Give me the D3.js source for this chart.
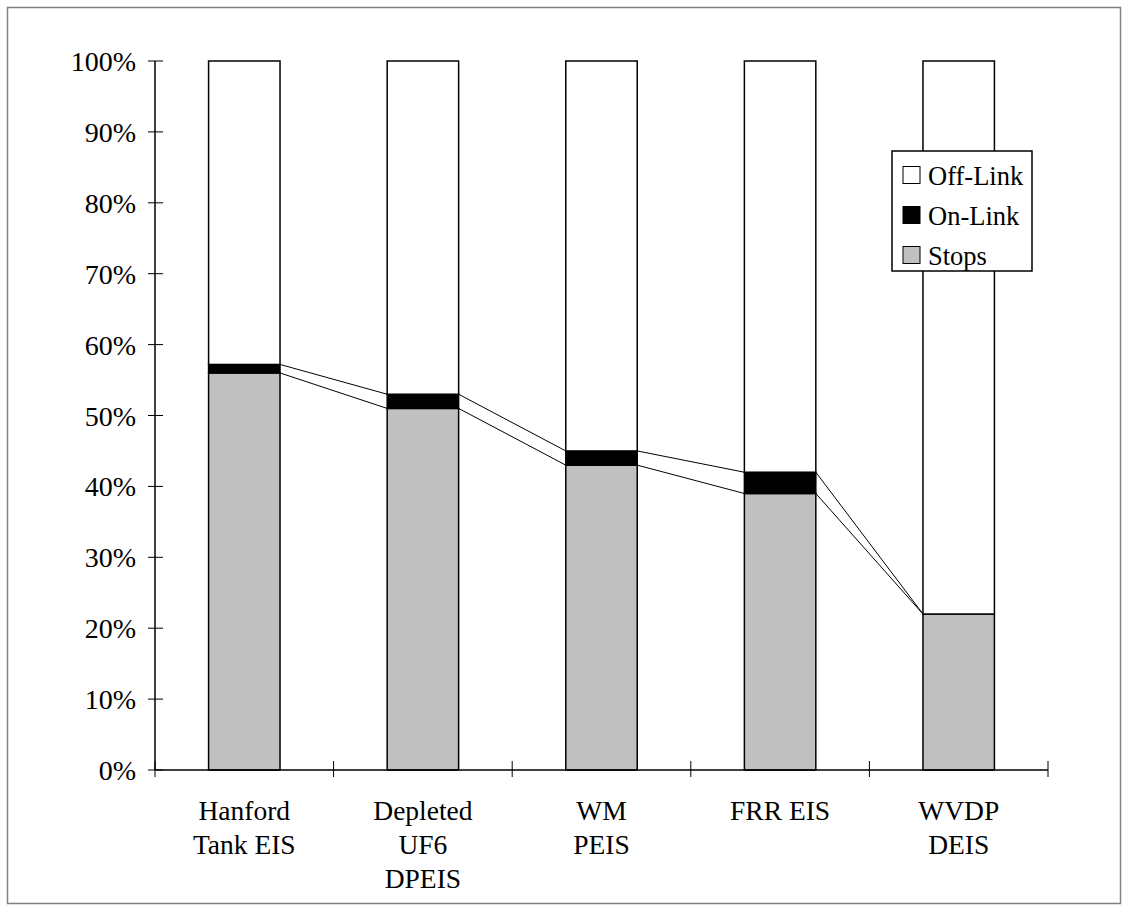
<!DOCTYPE html>
<html>
<head>
<meta charset="utf-8">
<script src="https://cdn.jsdelivr.net/npm/d3@7"></script>
<style>
  html, body { margin: 0; padding: 0; background: #fff; }
  svg { display: block; }
  text { font-family: "Liberation Serif", "Times New Roman", serif; fill: #000; }
</style>
</head>
<body>
<svg id="chart" width="1127" height="911"></svg>
<script>
const categories = [["Hanford", "Tank EIS"], ["Depleted", "UF6", "DPEIS"], ["WM", "PEIS"], ["FRR EIS"], ["WVDP", "DEIS"]];
const seriesNames = ["Stops", "On-Link", "Off-Link"];
const stops   = [56, 51, 43, 39, 22];
const onLink  = [1.2, 2, 2, 3, 0];
const offLink = [42.8, 47, 55, 58, 78];
const yTicks  = [0, 10, 20, 30, 40, 50, 60, 70, 80, 90, 100];
const legendOrder = ["Off-Link", "On-Link", "Stops"];
const colors = { "Stops": "#c0c0c0", "On-Link": "#000000", "Off-Link": "#ffffff" };

const svg = d3.select("#chart");

// outer frame
svg.append("rect").attr("x", 7.5).attr("y", 7.5).attr("width", 1113).attr("height", 896)
  .attr("fill", "#fff").attr("stroke", "#808080").attr("stroke-width", 1.5);

const keys = categories.map((c, i) => i);
const x = d3.scaleBand().domain(keys).range([155, 1048]).padding(0);
const y = d3.scaleLinear().domain([0, 100]).range([770, 61]);
const barW = x.bandwidth() * 0.4;
const bx = i => x(i) + (x.bandwidth() - barW) / 2;

const rows = keys.map(i => ({ i, "Stops": stops[i], "On-Link": onLink[i], "Off-Link": offLink[i] }));
const stacked = d3.stack().keys(seriesNames)(rows);

// connector lines
const tops = [stacked[0], stacked[1]];
tops.forEach(s => {
  for (let k = 0; k < s.length - 1; k++) {
    svg.append("line")
      .attr("x1", bx(k) + barW).attr("y1", y(s[k][1]))
      .attr("x2", bx(k + 1)).attr("y2", y(s[k + 1][1]))
      .attr("stroke", "#000").attr("stroke-width", 1);
  }
});

// bars
stacked.forEach(s => {
  svg.append("g").selectAll("rect").data(s).join("rect")
    .attr("x", (d, k) => bx(k))
    .attr("width", barW)
    .attr("y", d => y(d[1]))
    .attr("height", d => Math.max(0, y(d[0]) - y(d[1])))
    .attr("fill", colors[s.key])
    .attr("stroke", "#000").attr("stroke-width", 1.5);
});

// y axis
svg.append("line").attr("x1", 155).attr("x2", 155).attr("y1", y(0)).attr("y2", y(100))
  .attr("stroke", "#000").attr("stroke-width", 1.5);
const yg = svg.append("g");
yTicks.forEach(t => {
  yg.append("line").attr("x1", 148).attr("x2", 163).attr("y1", y(t)).attr("y2", y(t))
    .attr("stroke", "#000").attr("stroke-width", 1);
  yg.append("text").attr("x", 136).attr("y", y(t)).attr("dy", "0.36em")
    .attr("text-anchor", "end").attr("font-size", 28).text(t + "%");
});

// x axis
svg.append("line").attr("x1", 155).attr("x2", 1048).attr("y1", y(0)).attr("y2", y(0))
  .attr("stroke", "#000").attr("stroke-width", 1.5);
const xEdges = keys.map(i => x(i)).concat([x(keys[keys.length - 1]) + x.bandwidth()]);
xEdges.forEach(e => {
  svg.append("line").attr("x1", e).attr("x2", e).attr("y1", 761).attr("y2", 777)
    .attr("stroke", "#000").attr("stroke-width", 1);
});
keys.forEach(i => {
  const t = svg.append("text").attr("text-anchor", "middle").attr("font-size", 27.5)
    .attr("x", x(i) + x.bandwidth() / 2).attr("y", 820);
  categories[i].forEach((line, j) => {
    t.append("tspan").attr("x", x(i) + x.bandwidth() / 2).attr("dy", j === 0 ? 0 : 34).text(line);
  });
});

// legend
const lg = svg.append("g");
lg.append("rect").attr("x", 892).attr("y", 151).attr("width", 140).attr("height", 120)
  .attr("fill", "#fff").attr("stroke", "#000").attr("stroke-width", 1.5);
legendOrder.forEach((name, j) => {
  const cy = 175 + j * 40;
  lg.append("rect").attr("x", 903).attr("y", cy - 8.5).attr("width", 17).attr("height", 17)
    .attr("fill", colors[name]).attr("stroke", "#000").attr("stroke-width", 1);
  lg.append("text").attr("x", 928).attr("y", cy).attr("dy", "0.36em")
    .attr("font-size", 26.5).text(name);
});
</script>
</body>
</html>
